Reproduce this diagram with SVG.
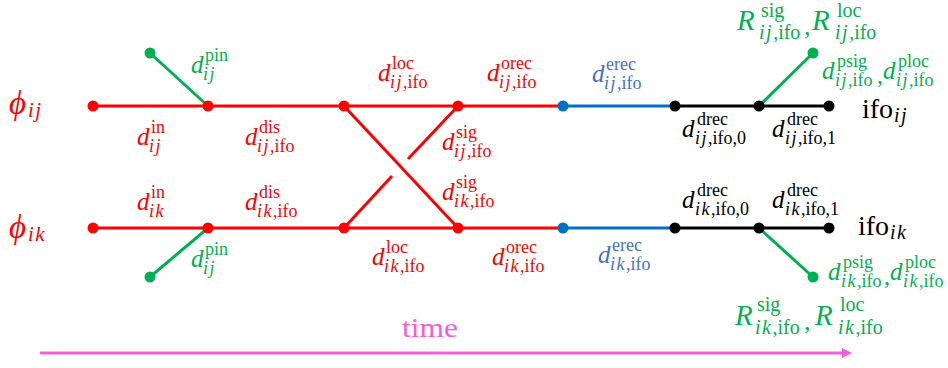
<svg xmlns="http://www.w3.org/2000/svg" width="948" height="368" viewBox="0 0 948 368">
<defs>
<style>
.t{font-family:"Liberation Serif","DejaVu Serif",serif}
.mi{font-style:italic;font-size:25px}
.s{font-size:18px}
.it{font-style:italic;letter-spacing:1.5px}
.r{fill:#FF0000}.g{fill:#00B050}.b{fill:#4472C4}.k{fill:#000000}
.lr{stroke:#FF0000;stroke-width:3;fill:none}
.lb{stroke:#0070C0;stroke-width:3;fill:none}
.lk{stroke:#000000;stroke-width:3;fill:none}
.lg{stroke:#00B050;stroke-width:3;fill:none}
.dr{fill:#FF0000}.db{fill:#0070C0}.dk{fill:#000000}.dg{fill:#00B050}
.R{font-style:italic;font-size:29px}
.rs{font-size:20px}
</style>
<marker id="ah" markerWidth="10" markerHeight="10" refX="0" refY="5" orient="auto" markerUnits="userSpaceOnUse">
<path d="M0,0 L10,5 L0,10 Z" fill="#F55EDA"/>
</marker>
</defs>
<rect width="948" height="368" fill="#ffffff"/>

<g id="connectors">
<line class="lr" x1="93" y1="106" x2="563" y2="106"/>
<line class="lb" x1="563" y1="106" x2="675" y2="106"/>
<line class="lk" x1="675" y1="106" x2="829" y2="106"/>
<line class="lr" x1="93" y1="228" x2="563" y2="228"/>
<line class="lb" x1="563" y1="228" x2="675" y2="228"/>
<line class="lk" x1="675" y1="228" x2="829" y2="228"/>
<line class="lr" x1="344" y1="106" x2="458" y2="228"/>
<line class="lr" x1="458" y1="106" x2="408" y2="159"/>
<line class="lr" x1="392" y1="176" x2="344" y2="228"/>
<line class="lg" x1="150" y1="53" x2="208" y2="106"/>
<line class="lg" x1="150" y1="277" x2="208" y2="228"/>
<line class="lg" x1="813" y1="53" x2="759" y2="106"/>
<line class="lg" x1="813" y1="277" x2="759" y2="228"/>
<line x1="40" y1="353" x2="842" y2="353" stroke="#F55EDA" stroke-width="3" marker-end="url(#ah)"/>
</g>

<g id="node-ij-0"><circle class="dr" cx="93" cy="106" r="5.5"/></g>
<g id="node-ij-1"><circle class="dr" cx="208" cy="106" r="5.5"/></g>
<g id="node-ij-2"><circle class="dr" cx="344" cy="106" r="5.5"/></g>
<g id="node-ij-3"><circle class="dr" cx="458" cy="106" r="5.5"/></g>
<g id="node-ij-4"><circle class="db" cx="563" cy="106" r="5.5"/></g>
<g id="node-ij-5"><circle class="dk" cx="675" cy="106" r="5.5"/></g>
<g id="node-ij-6"><circle class="dk" cx="759" cy="106" r="5.5"/></g>
<g id="node-ij-7"><circle class="dk" cx="829" cy="106" r="5.5"/></g>
<g id="node-ik-0"><circle class="dr" cx="93" cy="228" r="5.5"/></g>
<g id="node-ik-1"><circle class="dr" cx="208" cy="228" r="5.5"/></g>
<g id="node-ik-2"><circle class="dr" cx="344" cy="228" r="5.5"/></g>
<g id="node-ik-3"><circle class="dr" cx="458" cy="228" r="5.5"/></g>
<g id="node-ik-4"><circle class="db" cx="563" cy="228" r="5.5"/></g>
<g id="node-ik-5"><circle class="dk" cx="675" cy="228" r="5.5"/></g>
<g id="node-ik-6"><circle class="dk" cx="759" cy="228" r="5.5"/></g>
<g id="node-ik-7"><circle class="dk" cx="829" cy="228" r="5.5"/></g>
<g id="node-pin-ij"><circle class="dg" cx="150" cy="53" r="5.5"/></g>
<g id="node-pin-ik"><circle class="dg" cx="150" cy="277" r="5.5"/></g>
<g id="node-p-ij"><circle class="dg" cx="813" cy="53" r="5.5"/></g>
<g id="node-p-ik"><circle class="dg" cx="813" cy="277" r="5.5"/></g>

<g id="phi-ij" class="t r"><text x="9" y="114" font-style="italic" font-size="33">ϕ</text><text x="28" y="117" class="it" font-size="21">ij</text></g>
<g id="phi-ik" class="t r"><text x="9" y="238" font-style="italic" font-size="33">ϕ</text><text x="28" y="241" class="it" font-size="21">ik</text></g>

<g id="lbl-pin-ij" class="t g"><text x="191" y="73" class="mi">d</text><text x="205" y="61" class="s">pin</text><text x="203" y="80" class="s"><tspan class="it">ij</tspan></text></g>
<g id="lbl-in-ij" class="t r"><text x="137" y="145" class="mi">d</text><text x="151" y="133" class="s">in</text><text x="149" y="152" class="s"><tspan class="it">ij</tspan></text></g>
<g id="lbl-dis-ij" class="t r"><text x="245" y="145" class="mi">d</text><text x="259" y="133" class="s">dis</text><text x="257" y="152" class="s"><tspan class="it">ij</tspan>,ifo</text></g>
<g id="lbl-pin-ik" class="t g"><text x="191" y="267" class="mi">d</text><text x="205" y="255" class="s">pin</text><text x="203" y="274" class="s"><tspan class="it">ij</tspan></text></g>
<g id="lbl-in-ik" class="t r"><text x="137" y="210" class="mi">d</text><text x="151" y="198" class="s">in</text><text x="149" y="217" class="s"><tspan class="it">ik</tspan></text></g>
<g id="lbl-dis-ik" class="t r"><text x="245" y="210" class="mi">d</text><text x="259" y="198" class="s">dis</text><text x="257" y="217" class="s"><tspan class="it">ik</tspan>,ifo</text></g>

<g id="lbl-loc-ij" class="t r"><text x="378" y="81" class="mi">d</text><text x="392" y="69" class="s">loc</text><text x="390" y="88" class="s"><tspan class="it">ij</tspan>,ifo</text></g>
<g id="lbl-orec-ij" class="t r"><text x="487" y="81" class="mi">d</text><text x="501" y="69" class="s">orec</text><text x="499" y="88" class="s"><tspan class="it">ij</tspan>,ifo</text></g>
<g id="lbl-sig-ij" class="t r"><text x="442" y="150" class="mi">d</text><text x="456" y="138" class="s">sig</text><text x="454" y="157" class="s"><tspan class="it">ij</tspan>,ifo</text></g>
<g id="lbl-sig-ik" class="t r"><text x="442" y="200" class="mi">d</text><text x="456" y="188" class="s">sig</text><text x="454" y="207" class="s"><tspan class="it">ik</tspan>,ifo</text></g>
<g id="lbl-loc-ik" class="t r"><text x="372" y="265" class="mi">d</text><text x="386" y="253" class="s">loc</text><text x="384" y="272" class="s"><tspan class="it">ik</tspan>,ifo</text></g>
<g id="lbl-orec-ik" class="t r"><text x="492" y="265" class="mi">d</text><text x="506" y="253" class="s">orec</text><text x="504" y="272" class="s"><tspan class="it">ik</tspan>,ifo</text></g>

<g id="lbl-erec-ij" class="t b"><text x="592" y="82" class="mi">d</text><text x="606" y="70" class="s">erec</text><text x="604" y="89" class="s"><tspan class="it">ij</tspan>,ifo</text></g>
<g id="lbl-erec-ik" class="t b"><text x="598" y="263" class="mi">d</text><text x="612" y="251" class="s">erec</text><text x="610" y="270" class="s"><tspan class="it">ik</tspan>,ifo</text></g>

<g id="lbl-drec0-ij" class="t k"><text x="682" y="137" class="mi">d</text><text x="697" y="125" class="s">drec</text><text x="695" y="144" class="s"><tspan class="it">ij</tspan>,ifo,0</text></g>
<g id="lbl-drec1-ij" class="t k"><text x="772" y="137" class="mi">d</text><text x="787" y="125" class="s">drec</text><text x="785" y="144" class="s"><tspan class="it">ij</tspan>,ifo,1</text></g>
<g id="lbl-drec0-ik" class="t k"><text x="682" y="208" class="mi">d</text><text x="697" y="196" class="s">drec</text><text x="695" y="215" class="s"><tspan class="it">ik</tspan>,ifo,0</text></g>
<g id="lbl-drec1-ik" class="t k"><text x="772" y="208" class="mi">d</text><text x="787" y="196" class="s">drec</text><text x="785" y="215" class="s"><tspan class="it">ik</tspan>,ifo,1</text></g>

<g id="lbl-p-ij" class="t g"><text x="822" y="79" class="mi">d</text><text x="837" y="67" class="s">psig</text><text x="835" y="86" class="s"><tspan class="it">ij</tspan>,ifo</text><text x="877" y="83" font-size="24">,</text><text x="883" y="79" class="mi">d</text><text x="898" y="67" class="s">ploc</text><text x="896" y="86" class="s"><tspan class="it">ij</tspan>,ifo</text></g>
<g id="lbl-p-ik" class="t g"><text x="828" y="280" class="mi">d</text><text x="843" y="268" class="s">psig</text><text x="841" y="287" class="s"><tspan class="it">ik</tspan>,ifo</text><text x="884" y="284" font-size="24">,</text><text x="890" y="280" class="mi">d</text><text x="905" y="268" class="s">ploc</text><text x="903" y="287" class="s"><tspan class="it">ik</tspan>,ifo</text></g>

<g id="lbl-R-ij" class="t g"><text x="737" y="30" class="R">R</text><text x="761" y="17" class="rs">sig</text><text x="759" y="39" class="rs"><tspan class="it">ij</tspan>,ifo</text><text x="804" y="35" font-size="26">,</text><text x="812" y="30" class="R">R</text><text x="837" y="17" class="rs">loc</text><text x="835" y="39" class="rs"><tspan class="it">ij</tspan>,ifo</text></g>
<g id="lbl-R-ik" class="t g"><text x="735" y="325" class="R">R</text><text x="757" y="311" class="rs">sig</text><text x="755" y="334" class="rs"><tspan class="it">ik</tspan>,ifo</text><text x="804" y="330" font-size="26">,</text><text x="815" y="325" class="R">R</text><text x="840" y="311" class="rs">loc</text><text x="838" y="334" class="rs"><tspan class="it">ik</tspan>,ifo</text></g>

<g id="lbl-ifo-ij" class="t k"><text x="862" y="118" font-size="28">ifo</text><text x="894" y="122" class="it" font-size="20">ij</text></g>
<g id="lbl-ifo-ik" class="t k"><text x="858" y="235" font-size="28">ifo</text><text x="890" y="239" class="it" font-size="20">ik</text></g>

<g id="lbl-time"><text x="402" y="337" class="t" font-size="27" fill="#F55EDA" textLength="56" lengthAdjust="spacingAndGlyphs">time</text></g>
</svg>
